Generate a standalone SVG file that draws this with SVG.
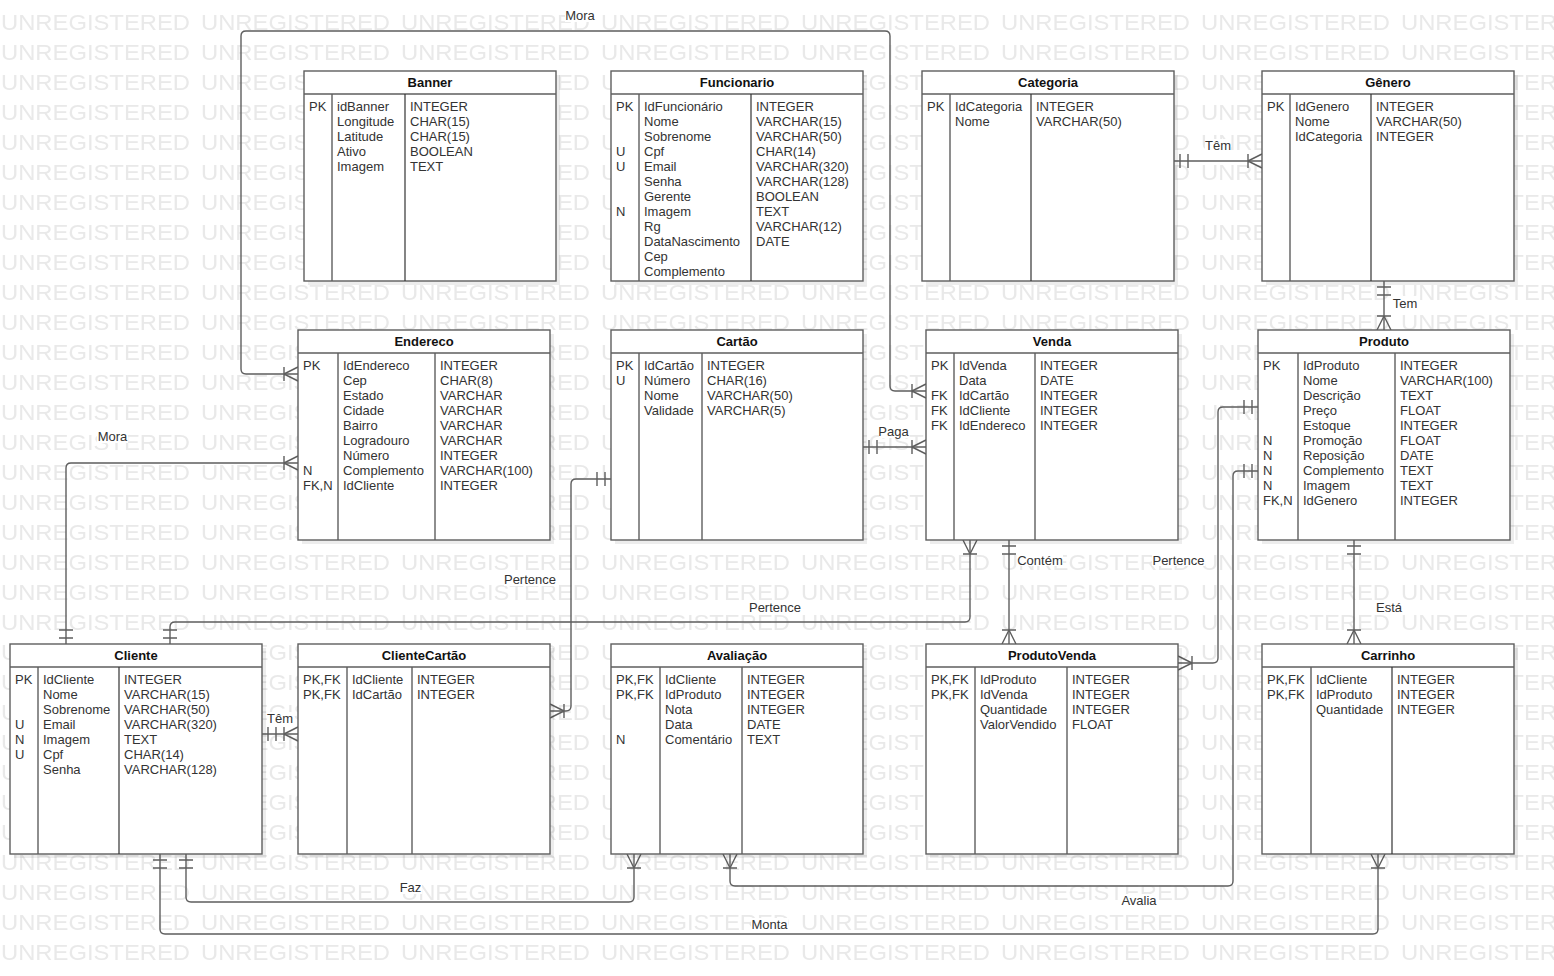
<svg xmlns="http://www.w3.org/2000/svg" width="1554" height="976" viewBox="0 0 1554 976">
<style>
.t{font-family:"Liberation Sans",Arial,sans-serif;font-size:13px;fill:#333}
.h{font-weight:bold;fill:#111;text-anchor:middle}
.lb{text-anchor:middle}
.tb{fill:#fff;stroke:#5e5e5e;stroke-width:1.4}
.sh{fill:#000;fill-opacity:0.07}
.dv{stroke:#5e5e5e;stroke-width:1.4}
.dv2{stroke:#333;stroke-width:1.2}
.c{fill:none;stroke:#5e5e5e;stroke-width:1.4;marker-start:url(#one);marker-end:url(#many)}
.bg{fill:#fff}
</style>
<defs>
<pattern id="wm" width="200" height="30" patternUnits="userSpaceOnUse">
<text x="1" y="29.5" font-family="Liberation Sans, Arial, sans-serif" font-size="22.5" fill="#e9e9e9" textLength="189" lengthAdjust="spacingAndGlyphs">UNREGISTERED</text>
</pattern>
<marker id="one" markerUnits="userSpaceOnUse" orient="auto-start-reverse" refX="0" refY="0" markerWidth="1" markerHeight="1" overflow="visible">
<path d="M-6,-7V7M-14,-7V7" fill="none" stroke="#5e5e5e" stroke-width="1.4"/>
</marker>
<marker id="many" markerUnits="userSpaceOnUse" orient="auto-start-reverse" refX="0" refY="0" markerWidth="1" markerHeight="1" overflow="visible">
<path d="M-14,-7V7M-14,0L0,-7M-14,0L0,7" fill="none" stroke="#5e5e5e" stroke-width="1.4"/>
</marker>
</defs>
<rect x="0" y="0" width="1554" height="976" fill="#fff"/>
<rect x="0" y="0" width="1554" height="968" fill="url(#wm)"/>

<g id="connectors">
<path class="c" style="marker-start:url(#many)" d="M298,374 H246 Q241,374 241,369 V36 Q241,31 246,31 H885 Q890,31 890,36 V386 Q890,391 895,391 H926"/>
<path class="c" d="M66,644 V468 Q66,463 71,463 H298"/>
<path class="c" d="M863,447 H926"/>
<path class="c" d="M1174,161 H1262"/>
<path class="c" d="M1384,281 V330"/>
<path class="c" style="marker-start:url(#many);marker-end:url(#one)" d="M970,540 V617 Q970,622 965,622 H175 Q170,622 170,627 V644"/>
<path class="c" d="M1009,540 V644"/>
<path class="c" d="M611,479 H576 Q571,479 571,484 V706 Q571,711 566,711 H550"/>
<path class="c" d="M262,734 H298"/>
<path class="c" style="marker-start:url(#many);marker-end:url(#one)" d="M1178,663 H1213 Q1218,663 1218,658 V412 Q1218,407 1223,407 H1258"/>
<path class="c" style="marker-start:url(#many);marker-end:url(#one)" d="M730,854 V881 Q730,886 735,886 H1228 Q1233,886 1233,881 V476 Q1233,471 1238,471 H1258"/>
<path class="c" d="M186,854 V897 Q186,902 191,902 H629 Q634,902 634,897 V854"/>
<path class="c" d="M160,854 V929 Q160,934 165,934 H1373 Q1378,934 1378,929 V854"/>
<path class="c" d="M1354,540 V644"/>
</g>

<g id="labels">
<rect class="bg" x="565" y="9" width="30" height="13"/><text class="t lb" x="580" y="20">Mora</text>
<rect class="bg" x="97" y="430" width="31" height="13"/><text class="t lb" x="112.5" y="441">Mora</text>
<rect class="bg" x="1205" y="139" width="26" height="13"/><text class="t lb" x="1218" y="150">Têm</text>
<rect class="bg" x="1392" y="296" width="26" height="13"/><text class="t lb" x="1405" y="307.5">Tem</text>
<rect class="bg" x="879" y="425" width="29" height="13"/><text class="t lb" x="893.5" y="436">Paga</text>
<rect class="bg" x="504" y="573" width="52" height="13"/><text class="t lb" x="530" y="584">Pertence</text>
<rect class="bg" x="1017" y="553" width="46" height="13"/><text class="t lb" x="1040" y="564.5">Contém</text>
<rect class="bg" x="1152" y="553" width="53" height="13"/><text class="t lb" x="1178.5" y="564.5">Pertence</text>
<rect class="bg" x="749" y="601" width="52" height="13"/><text class="t lb" x="775" y="612">Pertence</text>
<rect class="bg" x="1376" y="601" width="26" height="13"/><text class="t lb" x="1389" y="612">Está</text>
<rect class="bg" x="267" y="712" width="26" height="13"/><text class="t lb" x="280" y="723">Têm</text>
<rect class="bg" x="399" y="881" width="23" height="13"/><text class="t lb" x="410.5" y="892">Faz</text>
<rect class="bg" x="1120" y="894" width="38" height="13"/><text class="t lb" x="1139" y="904.5">Avalia</text>
<rect class="bg" x="751" y="918" width="37" height="13"/><text class="t lb" x="769.5" y="929">Monta</text>
</g>

<g id="banner">
<rect class="sh" x="308" y="75" width="252" height="210"/>
<rect class="tb" x="304" y="71" width="252" height="210"/>
<line class="dv" x1="304" y1="94" x2="556" y2="94"/>
<line class="dv" x1="332" y1="94" x2="332" y2="281"/>
<line class="dv2" x1="405" y1="94" x2="405" y2="281"/>
<text class="t h" x="430" y="87">Banner</text>
<text class="t"><tspan x="309" y="111">PK</tspan></text>
<text class="t"><tspan x="337" y="111">idBanner</tspan><tspan x="337" dy="15">Longitude</tspan><tspan x="337" dy="15">Latitude</tspan><tspan x="337" dy="15">Ativo</tspan><tspan x="337" dy="15">Imagem</tspan></text>
<text class="t"><tspan x="410" y="111">INTEGER</tspan><tspan x="410" dy="15">CHAR(15)</tspan><tspan x="410" dy="15">CHAR(15)</tspan><tspan x="410" dy="15">BOOLEAN</tspan><tspan x="410" dy="15">TEXT</tspan></text>
</g>

<g id="funcionario">
<rect class="sh" x="615" y="75" width="252" height="210"/>
<rect class="tb" x="611" y="71" width="252" height="210"/>
<line class="dv" x1="611" y1="94" x2="863" y2="94"/>
<line class="dv" x1="639" y1="94" x2="639" y2="281"/>
<line class="dv2" x1="751" y1="94" x2="751" y2="281"/>
<text class="t h" x="737" y="87">Funcionario</text>
<text class="t"><tspan x="616" y="111">PK</tspan><tspan x="616" y="156">U</tspan><tspan x="616" y="171">U</tspan><tspan x="616" y="216">N</tspan></text>
<text class="t"><tspan x="644" y="111">IdFuncionário</tspan><tspan x="644" dy="15">Nome</tspan><tspan x="644" dy="15">Sobrenome</tspan><tspan x="644" dy="15">Cpf</tspan><tspan x="644" dy="15">Email</tspan><tspan x="644" dy="15">Senha</tspan><tspan x="644" dy="15">Gerente</tspan><tspan x="644" dy="15">Imagem</tspan><tspan x="644" dy="15">Rg</tspan><tspan x="644" dy="15">DataNascimento</tspan><tspan x="644" dy="15">Cep</tspan><tspan x="644" dy="15">Complemento</tspan></text>
<text class="t"><tspan x="756" y="111">INTEGER</tspan><tspan x="756" dy="15">VARCHAR(15)</tspan><tspan x="756" dy="15">VARCHAR(50)</tspan><tspan x="756" dy="15">CHAR(14)</tspan><tspan x="756" dy="15">VARCHAR(320)</tspan><tspan x="756" dy="15">VARCHAR(128)</tspan><tspan x="756" dy="15">BOOLEAN</tspan><tspan x="756" dy="15">TEXT</tspan><tspan x="756" dy="15">VARCHAR(12)</tspan><tspan x="756" dy="15">DATE</tspan></text>
</g>

<g id="categoria">
<rect class="sh" x="926" y="75" width="252" height="210"/>
<rect class="tb" x="922" y="71" width="252" height="210"/>
<line class="dv" x1="922" y1="94" x2="1174" y2="94"/>
<line class="dv" x1="950" y1="94" x2="950" y2="281"/>
<line class="dv2" x1="1031" y1="94" x2="1031" y2="281"/>
<text class="t h" x="1048" y="87">Categoria</text>
<text class="t"><tspan x="927" y="111">PK</tspan></text>
<text class="t"><tspan x="955" y="111">IdCategoria</tspan><tspan x="955" dy="15">Nome</tspan></text>
<text class="t"><tspan x="1036" y="111">INTEGER</tspan><tspan x="1036" dy="15">VARCHAR(50)</tspan></text>
</g>

<g id="genero">
<rect class="sh" x="1266" y="75" width="252" height="210"/>
<rect class="tb" x="1262" y="71" width="252" height="210"/>
<line class="dv" x1="1262" y1="94" x2="1514" y2="94"/>
<line class="dv" x1="1290" y1="94" x2="1290" y2="281"/>
<line class="dv2" x1="1371" y1="94" x2="1371" y2="281"/>
<text class="t h" x="1388" y="87">Gênero</text>
<text class="t"><tspan x="1267" y="111">PK</tspan></text>
<text class="t"><tspan x="1295" y="111">IdGenero</tspan><tspan x="1295" dy="15">Nome</tspan><tspan x="1295" dy="15">IdCategoria</tspan></text>
<text class="t"><tspan x="1376" y="111">INTEGER</tspan><tspan x="1376" dy="15">VARCHAR(50)</tspan><tspan x="1376" dy="15">INTEGER</tspan></text>
</g>

<g id="endereco">
<rect class="sh" x="302" y="334" width="252" height="210"/>
<rect class="tb" x="298" y="330" width="252" height="210"/>
<line class="dv" x1="298" y1="353" x2="550" y2="353"/>
<line class="dv" x1="338" y1="353" x2="338" y2="540"/>
<line class="dv" x1="435" y1="353" x2="435" y2="540"/>
<text class="t h" x="424" y="346">Endereco</text>
<text class="t"><tspan x="303" y="370">PK</tspan><tspan x="303" y="475">N</tspan><tspan x="303" y="490">FK,N</tspan></text>
<text class="t"><tspan x="343" y="370">IdEndereco</tspan><tspan x="343" dy="15">Cep</tspan><tspan x="343" dy="15">Estado</tspan><tspan x="343" dy="15">Cidade</tspan><tspan x="343" dy="15">Bairro</tspan><tspan x="343" dy="15">Logradouro</tspan><tspan x="343" dy="15">Número</tspan><tspan x="343" dy="15">Complemento</tspan><tspan x="343" dy="15">IdCliente</tspan></text>
<text class="t"><tspan x="440" y="370">INTEGER</tspan><tspan x="440" dy="15">CHAR(8)</tspan><tspan x="440" dy="15">VARCHAR</tspan><tspan x="440" dy="15">VARCHAR</tspan><tspan x="440" dy="15">VARCHAR</tspan><tspan x="440" dy="15">VARCHAR</tspan><tspan x="440" dy="15">INTEGER</tspan><tspan x="440" dy="15">VARCHAR(100)</tspan><tspan x="440" dy="15">INTEGER</tspan></text>
</g>

<g id="cartao">
<rect class="sh" x="615" y="334" width="252" height="210"/>
<rect class="tb" x="611" y="330" width="252" height="210"/>
<line class="dv" x1="611" y1="353" x2="863" y2="353"/>
<line class="dv" x1="639" y1="353" x2="639" y2="540"/>
<line class="dv" x1="702" y1="353" x2="702" y2="540"/>
<text class="t h" x="737" y="346">Cartão</text>
<text class="t"><tspan x="616" y="370">PK</tspan><tspan x="616" dy="15">U</tspan></text>
<text class="t"><tspan x="644" y="370">IdCartão</tspan><tspan x="644" dy="15">Número</tspan><tspan x="644" dy="15">Nome</tspan><tspan x="644" dy="15">Validade</tspan></text>
<text class="t"><tspan x="707" y="370">INTEGER</tspan><tspan x="707" dy="15">CHAR(16)</tspan><tspan x="707" dy="15">VARCHAR(50)</tspan><tspan x="707" dy="15">VARCHAR(5)</tspan></text>
</g>

<g id="venda">
<rect class="sh" x="930" y="334" width="252" height="210"/>
<rect class="tb" x="926" y="330" width="252" height="210"/>
<line class="dv" x1="926" y1="353" x2="1178" y2="353"/>
<line class="dv" x1="954" y1="353" x2="954" y2="540"/>
<line class="dv" x1="1035" y1="353" x2="1035" y2="540"/>
<text class="t h" x="1052" y="346">Venda</text>
<text class="t"><tspan x="931" y="370">PK</tspan><tspan x="931" y="400">FK</tspan><tspan x="931" y="415">FK</tspan><tspan x="931" y="430">FK</tspan></text>
<text class="t"><tspan x="959" y="370">IdVenda</tspan><tspan x="959" dy="15">Data</tspan><tspan x="959" dy="15">IdCartão</tspan><tspan x="959" dy="15">IdCliente</tspan><tspan x="959" dy="15">IdEndereco</tspan></text>
<text class="t"><tspan x="1040" y="370">INTEGER</tspan><tspan x="1040" dy="15">DATE</tspan><tspan x="1040" dy="15">INTEGER</tspan><tspan x="1040" dy="15">INTEGER</tspan><tspan x="1040" dy="15">INTEGER</tspan></text>
</g>

<g id="produto">
<rect class="sh" x="1262" y="334" width="252" height="210"/>
<rect class="tb" x="1258" y="330" width="252" height="210"/>
<line class="dv" x1="1258" y1="353" x2="1510" y2="353"/>
<line class="dv" x1="1298" y1="353" x2="1298" y2="540"/>
<line class="dv" x1="1395" y1="353" x2="1395" y2="540"/>
<text class="t h" x="1384" y="346">Produto</text>
<text class="t"><tspan x="1263" y="370">PK</tspan><tspan x="1263" y="445">N</tspan><tspan x="1263" dy="15">N</tspan><tspan x="1263" dy="15">N</tspan><tspan x="1263" dy="15">N</tspan><tspan x="1263" dy="15">FK,N</tspan></text>
<text class="t"><tspan x="1303" y="370">IdProduto</tspan><tspan x="1303" dy="15">Nome</tspan><tspan x="1303" dy="15">Descrição</tspan><tspan x="1303" dy="15">Preço</tspan><tspan x="1303" dy="15">Estoque</tspan><tspan x="1303" dy="15">Promoção</tspan><tspan x="1303" dy="15">Reposição</tspan><tspan x="1303" dy="15">Complemento</tspan><tspan x="1303" dy="15">Imagem</tspan><tspan x="1303" dy="15">IdGenero</tspan></text>
<text class="t"><tspan x="1400" y="370">INTEGER</tspan><tspan x="1400" dy="15">VARCHAR(100)</tspan><tspan x="1400" dy="15">TEXT</tspan><tspan x="1400" dy="15">FLOAT</tspan><tspan x="1400" dy="15">INTEGER</tspan><tspan x="1400" dy="15">FLOAT</tspan><tspan x="1400" dy="15">DATE</tspan><tspan x="1400" dy="15">TEXT</tspan><tspan x="1400" dy="15">TEXT</tspan><tspan x="1400" dy="15">INTEGER</tspan></text>
</g>

<g id="cliente">
<rect class="sh" x="14" y="648" width="252" height="210"/>
<rect class="tb" x="10" y="644" width="252" height="210"/>
<line class="dv" x1="10" y1="667" x2="262" y2="667"/>
<line class="dv" x1="38" y1="667" x2="38" y2="854"/>
<line class="dv2" x1="119" y1="667" x2="119" y2="854"/>
<text class="t h" x="136" y="660">Cliente</text>
<text class="t"><tspan x="15" y="684">PK</tspan><tspan x="15" y="729">U</tspan><tspan x="15" dy="15">N</tspan><tspan x="15" dy="15">U</tspan></text>
<text class="t"><tspan x="43" y="684">IdCliente</tspan><tspan x="43" dy="15">Nome</tspan><tspan x="43" dy="15">Sobrenome</tspan><tspan x="43" dy="15">Email</tspan><tspan x="43" dy="15">Imagem</tspan><tspan x="43" dy="15">Cpf</tspan><tspan x="43" dy="15">Senha</tspan></text>
<text class="t"><tspan x="124" y="684">INTEGER</tspan><tspan x="124" dy="15">VARCHAR(15)</tspan><tspan x="124" dy="15">VARCHAR(50)</tspan><tspan x="124" dy="15">VARCHAR(320)</tspan><tspan x="124" dy="15">TEXT</tspan><tspan x="124" dy="15">CHAR(14)</tspan><tspan x="124" dy="15">VARCHAR(128)</tspan></text>
</g>

<g id="clientecartao">
<rect class="sh" x="302" y="648" width="252" height="210"/>
<rect class="tb" x="298" y="644" width="252" height="210"/>
<line class="dv" x1="298" y1="667" x2="550" y2="667"/>
<line class="dv" x1="347" y1="667" x2="347" y2="854"/>
<line class="dv" x1="412" y1="667" x2="412" y2="854"/>
<text class="t h" x="424" y="660">ClienteCartão</text>
<text class="t"><tspan x="303" y="684">PK,FK</tspan><tspan x="303" dy="15">PK,FK</tspan></text>
<text class="t"><tspan x="352" y="684">IdCliente</tspan><tspan x="352" dy="15">IdCartão</tspan></text>
<text class="t"><tspan x="417" y="684">INTEGER</tspan><tspan x="417" dy="15">INTEGER</tspan></text>
</g>

<g id="avaliacao">
<rect class="sh" x="615" y="648" width="252" height="210"/>
<rect class="tb" x="611" y="644" width="252" height="210"/>
<line class="dv" x1="611" y1="667" x2="863" y2="667"/>
<line class="dv" x1="660" y1="667" x2="660" y2="854"/>
<line class="dv" x1="742" y1="667" x2="742" y2="854"/>
<text class="t h" x="737" y="660">Avaliação</text>
<text class="t"><tspan x="616" y="684">PK,FK</tspan><tspan x="616" dy="15">PK,FK</tspan><tspan x="616" y="744">N</tspan></text>
<text class="t"><tspan x="665" y="684">IdCliente</tspan><tspan x="665" dy="15">IdProduto</tspan><tspan x="665" dy="15">Nota</tspan><tspan x="665" dy="15">Data</tspan><tspan x="665" dy="15">Comentário</tspan></text>
<text class="t"><tspan x="747" y="684">INTEGER</tspan><tspan x="747" dy="15">INTEGER</tspan><tspan x="747" dy="15">INTEGER</tspan><tspan x="747" dy="15">DATE</tspan><tspan x="747" dy="15">TEXT</tspan></text>
</g>

<g id="produtovenda">
<rect class="sh" x="930" y="648" width="252" height="210"/>
<rect class="tb" x="926" y="644" width="252" height="210"/>
<line class="dv" x1="926" y1="667" x2="1178" y2="667"/>
<line class="dv" x1="975" y1="667" x2="975" y2="854"/>
<line class="dv" x1="1067" y1="667" x2="1067" y2="854"/>
<text class="t h" x="1052" y="660">ProdutoVenda</text>
<text class="t"><tspan x="931" y="684">PK,FK</tspan><tspan x="931" dy="15">PK,FK</tspan></text>
<text class="t"><tspan x="980" y="684">IdProduto</tspan><tspan x="980" dy="15">IdVenda</tspan><tspan x="980" dy="15">Quantidade</tspan><tspan x="980" dy="15">ValorVendido</tspan></text>
<text class="t"><tspan x="1072" y="684">INTEGER</tspan><tspan x="1072" dy="15">INTEGER</tspan><tspan x="1072" dy="15">INTEGER</tspan><tspan x="1072" dy="15">FLOAT</tspan></text>
</g>

<g id="carrinho">
<rect class="sh" x="1266" y="648" width="252" height="210"/>
<rect class="tb" x="1262" y="644" width="252" height="210"/>
<line class="dv" x1="1262" y1="667" x2="1514" y2="667"/>
<line class="dv" x1="1311" y1="667" x2="1311" y2="854"/>
<line class="dv2" x1="1392" y1="667" x2="1392" y2="854"/>
<text class="t h" x="1388" y="660">Carrinho</text>
<text class="t"><tspan x="1267" y="684">PK,FK</tspan><tspan x="1267" dy="15">PK,FK</tspan></text>
<text class="t"><tspan x="1316" y="684">IdCliente</tspan><tspan x="1316" dy="15">IdProduto</tspan><tspan x="1316" dy="15">Quantidade</tspan></text>
<text class="t"><tspan x="1397" y="684">INTEGER</tspan><tspan x="1397" dy="15">INTEGER</tspan><tspan x="1397" dy="15">INTEGER</tspan></text>
</g>
</svg>
